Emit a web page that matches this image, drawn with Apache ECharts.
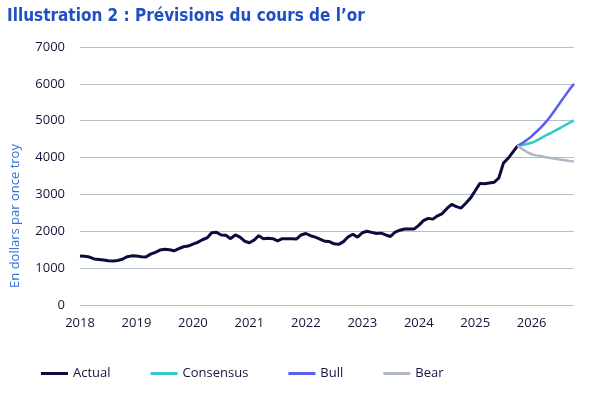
<!DOCTYPE html>
<html><head><meta charset="utf-8">
<script src="https://cdn.jsdelivr.net/npm/echarts@6/dist/echarts.min.js"></script>
<style>html,body{margin:0;padding:0;background:#fff}#c{width:602px;height:393px}</style>
</head><body><div id="c"></div>
<script>
// Monthly, Jan 2018 .. Oct 2026
const startYear = 2018;
const months = [];
for (let i = 0; i < 106; i++) {
  const y = startYear + Math.floor(i / 12), m = (i % 12) + 1;
  months.push(y + '-' + (m < 10 ? '0' + m : m));
}
const yTicks = [0, 1000, 2000, 3000, 4000, 5000, 6000, 7000];
const actual = [1330,1320,1300,1250,1235,1220,1200,1195,1207,1240,1310,1333,
  1330,1310,1300,1380,1430,1490,1510,1500,1470,1530,1580,1600,
  1650,1700,1770,1820,1960,1975,1900,1890,1800,1900,1840,1730,
  1690,1760,1880,1800,1810,1800,1740,1800,1800,1800,1790,1900,
  1940,1880,1840,1790,1730,1720,1660,1645,1720,1850,1920,1840,
  1960,2000,1970,1940,1950,1900,1860,1980,2030,2060,2060,2060,
  2160,2290,2350,2330,2420,2480,2620,2730,2670,2630,2760,2900,
  3100,3300,3290,3310,3330,3440,3850,3980,4150,4320];
// forecasts Oct 2025 .. Oct 2026
const consensus = [4320,4340,4370,4400,4460,4530,4600,4660,4730,4800,4870,4940,5010];
const bull = [4320,4390,4480,4580,4700,4820,4960,5120,5300,5480,5660,5840,6000];
const bear = [4320,4230,4150,4090,4060,4040,4010,3990,3970,3950,3930,3910,3890];

const fcStart = actual.length - 1;
function pad(arr){ const out = new Array(fcStart).fill(null); return out.concat(arr); }

const FONT = '"Open Sans", sans-serif';
const TXT = '#14143c';
const chart = echarts.init(document.getElementById('c'), null, {renderer:'canvas'});
chart.setOption({
  animation: false,
  title: {
    text: 'Illustration 2 : Prévisions du cours de l\u2019or',
    left: 2, top: 3,
    textStyle: {fontFamily: '"Liberation Sans Narrow", "DejaVu Sans Condensed", sans-serif', fontWeight: 'bold', fontSize: 17, color: '#1f4fc1'}
  },
  graphic: [{
    type: 'text', x: 15, y: 216, rotation: Math.PI / 2,
    style: {text: 'En dollars par once troy', font: '13px ' + FONT, fill: '#3570d8', align: 'center', verticalAlign: 'middle'}
  }],
  grid: {left: 80, right: 28, top: 47, bottom: 88},
  legend: {
    left: 41, top: 367, padding: 0, icon: 'rect', itemWidth: 27, itemHeight: 3, itemGap: 40,
    textStyle: {fontFamily: FONT, fontSize: 13, color: TXT},
    data: ['Actual', 'Consensus', 'Bull', 'Bear']
  },
  xAxis: {
    type: 'category', data: months, boundaryGap: false,
    axisLine: {show: false}, axisTick: {show: false},
    axisLabel: {
      interval: function (i) { return i % 12 === 0; },
      formatter: function (v) { return v.slice(0, 4); },
      margin: 12, fontFamily: FONT, fontSize: 13, color: TXT
    },
    splitLine: {show: false}
  },
  yAxis: {
    type: 'value', min: yTicks[0], max: yTicks[yTicks.length - 1], interval: 1000,
    axisLine: {show: false}, axisTick: {show: false},
    axisLabel: {margin: 15, fontFamily: FONT, fontSize: 13, color: TXT,
      formatter: function (v) { return String(v); }},
    splitLine: {lineStyle: {color: '#b3bfcb', width: 1}}
  },
  series: [
    {name: 'Actual', type: 'line', data: actual, showSymbol: false, symbol: 'none',
      lineStyle: {color: '#0b0b40', width: 3}, itemStyle: {color: '#0b0b40'}, z: 3},
    {name: 'Consensus', type: 'line', data: pad(consensus), showSymbol: false, symbol: 'none',
      lineStyle: {color: '#33c9cc', width: 2.5}, itemStyle: {color: '#33c9cc'}, z: 4},
    {name: 'Bull', type: 'line', data: pad(bull), showSymbol: false, symbol: 'none',
      lineStyle: {color: '#5a5ef0', width: 2.5}, itemStyle: {color: '#5a5ef0'}, z: 4},
    {name: 'Bear', type: 'line', data: pad(bear), showSymbol: false, symbol: 'none',
      lineStyle: {color: '#adb9c4', width: 2.5}, itemStyle: {color: '#adb9c4'}, z: 4}
  ]
});
</script></body></html>
